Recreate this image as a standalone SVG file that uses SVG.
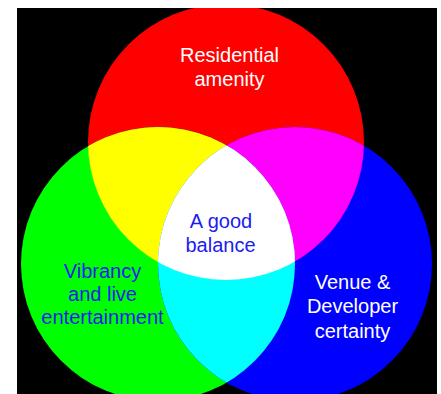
<svg xmlns="http://www.w3.org/2000/svg" width="441" height="394" viewBox="0 0 441 394">
<defs>
<clipPath id="frame"><rect x="17" y="8" width="420" height="386"/></clipPath>
<clipPath id="cR"><circle cx="226" cy="142" r="138"/></clipPath>
<clipPath id="cG"><circle cx="158" cy="264" r="137"/></clipPath>
<clipPath id="cB"><circle cx="295" cy="264" r="137"/></clipPath>
<filter id="soft" x="-5%" y="-5%" width="110%" height="110%"><feGaussianBlur stdDeviation="0.7"/></filter>
</defs>
<style>
.lbl{font-family:"Liberation Sans",Arial,sans-serif;font-size:20px;text-anchor:middle}
.w{fill:#ffffff}
.b{fill:#1c1cf0}
</style>
<rect x="0" y="0" width="441" height="394" fill="#ffffff"/>
<rect x="17" y="8" width="420" height="386" fill="#000000"/>
<g clip-path="url(#frame)">
<g filter="url(#soft)">
<g id="red"><circle cx="226" cy="142" r="138" fill="#ff0000"/></g>
<g id="green"><circle cx="158" cy="264" r="137" fill="#00ff00"/></g>
<g id="blue"><circle cx="295" cy="264" r="137" fill="#0000ff"/></g>
<g id="yellow" clip-path="url(#cR)"><circle cx="158" cy="264" r="137" fill="#ffff00"/></g>
<g id="magenta" clip-path="url(#cR)"><circle cx="295" cy="264" r="137" fill="#ff00ff"/></g>
<g id="cyan" clip-path="url(#cG)"><circle cx="295" cy="264" r="137" fill="#00ffff"/></g>
<g id="white" clip-path="url(#cR)"><g clip-path="url(#cG)"><circle cx="295" cy="264" r="137" fill="#ffffff"/></g></g>
</g>
</g>
<g id="connectors"></g>
<g id="residential"><text class="lbl w" x="229.5" y="62.3">Residential</text><text class="lbl w" x="229.5" y="85.5">amenity</text></g>
<g id="balance"><text class="lbl b" x="221" y="228.3">A good</text><text class="lbl b" x="220.5" y="251.5">balance</text></g>
<g id="vibrancy"><text class="lbl b" x="102.5" y="277.7">Vibrancy</text><text class="lbl b" x="102.5" y="300.7">and live</text><text class="lbl b" x="102.5" y="324">entertainment</text></g>
<g id="venue"><text class="lbl w" x="352.5" y="289.3">Venue &amp;</text><text class="lbl w" x="352.5" y="313.3">Developer</text><text class="lbl w" x="352.5" y="337.7">certainty</text></g>
</svg>
